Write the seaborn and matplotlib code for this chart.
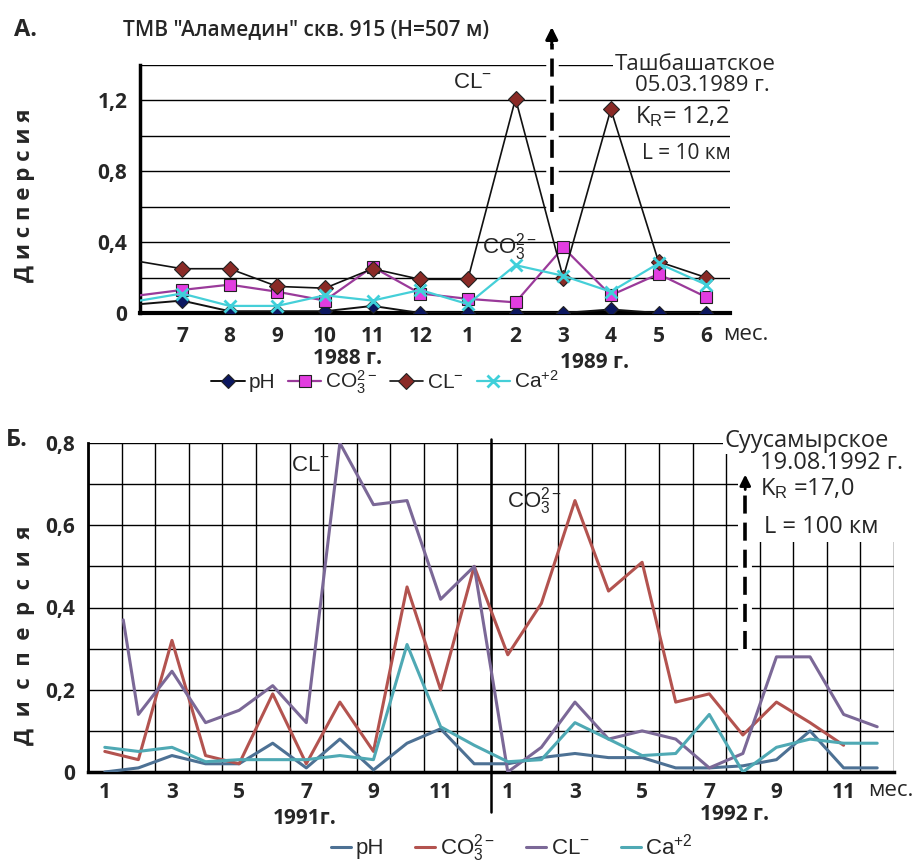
import numpy as np
import pandas as pd
import matplotlib
matplotlib.use("Agg")
import matplotlib.pyplot as plt
from matplotlib.patches import Rectangle
from matplotlib.lines import Line2D
import seaborn as sns

# ---------------- data ----------------
# Panel A: months Jul 1988 .. Jun 1989
months_a = ['7', '8', '9', '10', '11', '12', '1', '2', '3', '4', '5', '6']
a_ph = [0.07, 0.01, 0.01, 0.01, 0.04, 0.00, 0.00, 0.00, 0.00, 0.02, 0.00, 0.00]
a_co3 = [0.13, 0.16, 0.12, 0.07, 0.26, 0.11, 0.08, 0.06, 0.37, 0.10, 0.22, 0.09]
a_cl = [0.25, 0.25, 0.15, 0.14, 0.25, 0.19, 0.19, 1.21, 0.20, 1.15, 0.29, 0.20]
a_ca = [0.11, 0.04, 0.04, 0.10, 0.07, 0.13, 0.05, 0.27, 0.21, 0.12, 0.28, 0.16]
# values where lines enter at the left edge of the axis (preceding month)
a_edge = {'ph': 0.05, 'co3': 0.10, 'cl': 0.29, 'ca': 0.07}

# Panel B: months Jan 1991 .. Dec 1992
months_b = [str(m) for m in range(1, 13)] * 2
b_ph = [0.00, 0.01, 0.04, 0.02, 0.02, 0.07, 0.01, 0.08, 0.005, 0.07, 0.105, 0.02,
        0.02, 0.035, 0.045, 0.035, 0.035, 0.01, 0.01, 0.015, 0.03, 0.10, 0.01, 0.01]
b_co3 = [0.05, 0.03, 0.32, 0.04, 0.02, 0.19, 0.02, 0.17, 0.05, 0.45, 0.20, 0.50,
         0.285, 0.41, 0.66, 0.44, 0.51, 0.17, 0.19, 0.09, 0.17, 0.12, 0.065]
b_cl = [0.37, 0.14, 0.245, 0.12, 0.15, 0.21, 0.12, 0.80, 0.65, 0.66, 0.42, 0.50,
        0.00, 0.06, 0.17, 0.08, 0.10, 0.08, 0.01, 0.045, 0.28, 0.28, 0.14, 0.11]
b_ca = [0.06, 0.05, 0.06, 0.025, 0.03, 0.03, 0.03, 0.04, 0.03, 0.31, 0.11, 0.065,
        0.025, 0.03, 0.12, 0.08, 0.04, 0.045, 0.14, 0.00, 0.06, 0.08, 0.07, 0.07]
cl_first_pos = 1.55  # first Cl reading sits between months 1 and 2

# ---------------- style ----------------
sns.set_style("white")
plt.rcParams['font.family'] = ['Open Sans', 'DejaVu Sans']
plt.rcParams['mathtext.fontset'] = 'custom'
plt.rcParams['mathtext.rm'] = 'Liberation Sans'
plt.rcParams['mathtext.it'] = 'Liberation Sans:italic'
plt.rcParams['mathtext.bf'] = 'Liberation Sans:bold'

ARIAL = ['Liberation Sans', 'DejaVu Sans']
TICKFS = 15

fig = plt.figure(figsize=(9.15, 8.67), dpi=100)
W, H = 915, 867
axA = fig.add_axes([140 / W, 1 - 313 / H, 590 / W, 248 / H])
axB = fig.add_axes([88 / W, 1 - 772 / H, 806 / W, 329 / H])

# ================= Panel A =================
xa = np.arange(1, 13)
xa_edge = 0.12
series_a = [
    ('ph', a_ph, '#111111', '#0c1760', 'D', 7, 1.4),
    ('co3', a_co3, '#9a3a9a', '#e23de0', 's', 9, 1.6),
    ('cl', a_cl, '#111111', '#8a2a26', 'D', 8, 1.2),
    ('ca', a_ca, '#45cfd8', '#3fd0da', 'x', 9, 1.6),
]
handles_a = []
for key, vals, lc, mc, mk, ms, lw in series_a:
    df = pd.DataFrame({'x': np.r_[xa_edge, xa], 'y': np.r_[a_edge[key], vals]})
    sns.lineplot(data=df, x='x', y='y', ax=axA, color=lc, lw=lw, sort=False,
                 marker=mk, markersize=ms, markerfacecolor=mc,
                 markeredgecolor=('#222222' if mk != 'x' else mc),
                 markeredgewidth=(0.8 if mk != 'x' else 2.0),
                 markevery=list(range(1, 13)), zorder=4)
    handles_a.append(Line2D([], [], color=lc, lw=lw, marker=mk, markersize=ms,
                            markerfacecolor=mc,
                            markeredgecolor=('#222222' if mk != 'x' else mc),
                            markeredgewidth=(0.8 if mk != 'x' else 2.0)))

axA.set_xlim(0.12, 12.5)
axA.set_ylim(0, 1.4)
axA.set_xlabel('')
axA.set_ylabel('')
axA.set_yticks([0, 0.4, 0.8, 1.2])
axA.set_yticklabels(['0', '0,4', '0,8', '1,2'], fontsize=TICKFS, fontweight='bold')
axA.set_yticks(np.arange(0, 1.41, 0.2), minor=True)
axA.grid(axis='y', which='both', color='black', lw=1.0, zorder=0)
axA.grid(axis='x', visible=False)
axA.set_xticks(xa)
axA.set_xticklabels(months_a, fontsize=TICKFS, fontweight='bold')
axA.set_xticks(np.arange(0.5, 12.6, 1.0), minor=True)
axA.tick_params(axis='x', which='major', length=0, pad=9)
axA.tick_params(axis='x', which='minor', length=8, width=1.2, direction='out', color='black')
axA.tick_params(axis='y', which='both', length=5, width=1, direction='out', color='black', pad=4)
for s in ['top', 'right']:
    axA.spines[s].set_visible(False)
axA.spines['left'].set_linewidth(2.5)
axA.spines['bottom'].set_linewidth(3.0)
axA.spines['left'].set_color('black')
axA.spines['bottom'].set_color('black')

# dashed arrow (event marker)
axA.plot([8.76, 8.76], [0.57, 1.50], color='white', lw=9, clip_on=False, zorder=2)
axA.plot([8.76, 8.76], [0.57, 1.52], color='black', lw=2.6, ls=(0, (5, 2.5)),
         clip_on=False, zorder=3)
axA.annotate('', xy=(8.76, 1.63), xytext=(8.76, 1.50), xycoords='data',
             arrowprops=dict(arrowstyle='-|>', color='black', lw=2.2, mutation_scale=18),
             annotation_clip=False)

axA.text(7.1, 1.30, 'CL$^{-}$', fontsize=16, family=ARIAL, ha='center', va='center', zorder=5)
axA.text(7.88, 0.37, 'CO$_3^{2-}$', fontsize=16, family=ARIAL, ha='center', va='center', zorder=5)
axA.text(10.08, 1.40, 'Ташбашатское', fontsize=16, ha='left', va='center', zorder=5,
         bbox=dict(fc='white', ec='none', pad=1), clip_on=False)
axA.text(10.5, 1.285, '05.03.1989 г.', fontsize=16, ha='left', va='center', zorder=5,
         bbox=dict(fc='white', ec='none', pad=1))
axA.text(10.5, 1.11, 'K$_\\mathrm{R}$= 12,2', fontsize=17, ha='left', va='center', zorder=5,
         bbox=dict(fc='white', ec='none', pad=1))
axA.text(10.65, 0.90, 'L = 10 км', fontsize=15, ha='left', va='center', zorder=5,
         bbox=dict(fc='white', ec='none', pad=1))

fig.text(723 / W, 1 - 335 / H, 'мес.', fontsize=16, ha='left', va='center')
fig.text(348 / W, 1 - 358 / H, '1988 г.', fontsize=15, fontweight='bold', ha='center', va='center')
fig.text(595 / W, 1 - 363 / H, '1989 г.', fontsize=15, fontweight='bold', ha='center', va='center')
fig.text(14 / W, 1 - 30 / H, 'А.', fontsize=17, fontweight='bold', ha='left', va='center')
fig.text(123 / W, 1 - 30 / H, 'ТМВ "Аламедин" скв. 915 (Н=507 м)', fontsize=15,
         fontweight='semibold', ha='left', va='center')
fig.text(25 / W, 1 - 195 / H, 'Д и с п е р с и я', fontsize=16, fontweight='bold',
         rotation=90, ha='center', va='center')

legA = fig.legend(handles_a, ['pH', 'CO$_3^{2-}$', 'CL$^{-}$', 'Ca$^{+2}$'],
                  loc='center', bbox_to_anchor=(385 / W, 1 - 382 / H), ncol=4,
                  frameon=False, prop={'family': ARIAL, 'size': 15},
                  handlelength=1.6, handletextpad=0.2, columnspacing=0.6)

# ================= Panel B =================
xb = np.arange(1, 25)
colors_b = {'ph': '#4d7194', 'co3': '#b3534f', 'cl': '#7b6897', 'ca': '#4fa9b4'}
cl_x = np.r_[cl_first_pos, xb[1:]]
series_b = [
    ('ph', xb, b_ph),
    ('co3', xb[:len(b_co3)], b_co3),
    ('cl', cl_x, b_cl),
    ('ca', xb, b_ca),
]
handles_b = []
for key, xs, vals in series_b:
    df = pd.DataFrame({'x': xs, 'y': vals})
    sns.lineplot(data=df, x='x', y='y', ax=axB, color=colors_b[key], lw=2.2,
                 sort=False, zorder=4)
    handles_b.append(Line2D([], [], color=colors_b[key], lw=2.2))

axB.set_xlim(0.5, 24.5)
axB.set_ylim(0, 0.8)
axB.set_xlabel('')
axB.set_ylabel('')
axB.set_yticks([0, 0.2, 0.4, 0.6, 0.8])
axB.set_yticklabels(['0', '0,2', '0,4', '0,6', '0,8'], fontsize=TICKFS, fontweight='bold')
axB.set_yticks(np.arange(0, 0.81, 0.1), minor=True)
odd_pos = [p for p in xb if int(months_b[p - 1]) % 2 == 1]
axB.set_xticks(odd_pos)
axB.set_xticklabels([months_b[p - 1] for p in odd_pos], fontsize=TICKFS, fontweight='bold')
axB.set_xticks(np.arange(0.5, 24.6, 1.0), minor=True)
axB.grid(axis='y', which='both', color='black', lw=1.0, zorder=0)
axB.grid(axis='x', which='minor', color='black', lw=1.0, zorder=0)
axB.grid(axis='x', which='major', visible=False)
axB.tick_params(axis='x', which='major', length=0, pad=7)
axB.tick_params(axis='x', which='minor', length=6, width=1, direction='out', color='black')
axB.tick_params(axis='y', which='both', length=5, width=1, direction='out', color='black', pad=4)
for s in ['top', 'right']:
    axB.spines[s].set_visible(False)
axB.spines['left'].set_linewidth(2.0)
axB.spines['bottom'].set_linewidth(2.5)
axB.spines['left'].set_color('black')
axB.spines['bottom'].set_color('black')

# year separator
axB.plot([12.5, 12.5], [0.81, -0.098], color='black', lw=1.8, clip_on=False, zorder=3)

# blank area for annotation
axB.add_patch(Rectangle((19.85, 0.56), 4.8, 0.26, fc='white', ec='none', zorder=1,
                        clip_on=False))
axB.plot([20.07, 20.07], [0.30, 0.70], color='white', lw=10, zorder=2)
axB.plot([20.07, 20.07], [0.30, 0.70], color='black', lw=2.6, ls=(0, (5, 2.5)), zorder=3)
axB.annotate('', xy=(20.07, 0.73), xytext=(20.07, 0.68), xycoords='data',
             arrowprops=dict(arrowstyle='-|>', color='black', lw=2.0, mutation_scale=16),
             annotation_clip=False)

axB.text(7.12, 0.745, 'CL$^{-}$', fontsize=16, family=ARIAL, ha='center', va='center', zorder=5)
axB.text(13.8, 0.66, 'CO$_3^{2-}$', fontsize=16, family=ARIAL, ha='center', va='center', zorder=5)
axB.text(19.45, 0.805, 'Суусамырское', fontsize=17, ha='left', va='center', zorder=5,
         bbox=dict(fc='white', ec='none', pad=1), clip_on=False)
axB.text(20.5, 0.752, '19.08.1992 г.', fontsize=17, ha='left', va='center', zorder=5)
axB.text(20.5, 0.688, 'K$_\\mathrm{R}$ =17,0', fontsize=17, ha='left', va='center', zorder=5)
axB.text(20.64, 0.596, 'L = 100 км', fontsize=17, ha='left', va='center', zorder=5)

fig.text(868 / W, 1 - 790 / H, 'мес.', fontsize=16, ha='left', va='center')
fig.text(305 / W, 1 - 818 / H, '1991г.', fontsize=15, fontweight='bold', ha='center', va='center')
fig.text(735 / W, 1 - 814 / H, '1992 г.', fontsize=15, fontweight='bold', ha='center', va='center')
fig.text(6 / W, 1 - 440 / H, 'Б.', fontsize=17, fontweight='bold', ha='left', va='center')
fig.text(25 / W, 1 - 635 / H, 'Д  и  с  п  е  р  с  и  я', fontsize=16, fontweight='bold',
         rotation=90, ha='center', va='center')

legB = fig.legend(handles_b, ['pH', 'CO$_3^{2-}$', 'CL$^{-}$', 'Ca$^{+2}$'],
                  loc='center', bbox_to_anchor=(512 / W, 1 - 848 / H), ncol=4,
                  frameon=False, prop={'family': ARIAL, 'size': 16},
                  handlelength=0.9, handletextpad=0.2, columnspacing=1.4,
                  borderpad=0.1)

fig.savefig('out.png', dpi=100, facecolor='white')
